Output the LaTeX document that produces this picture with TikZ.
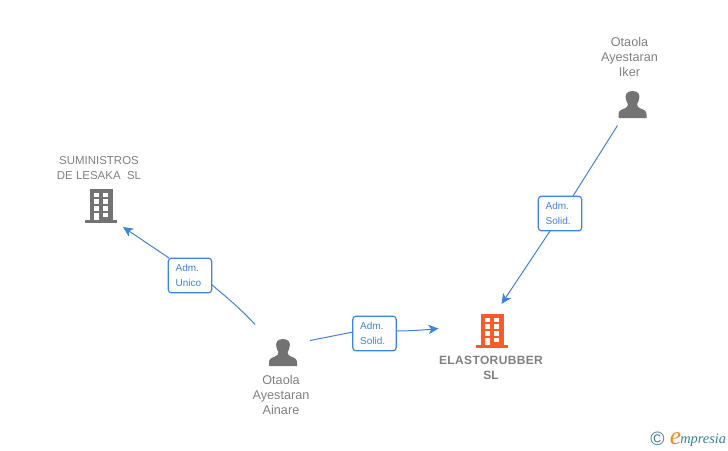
\documentclass[tikz,border=0pt]{standalone}
\usepackage{fontspec}
\setmainfont{Liberation Sans}
\newfontfamily\logofont{Liberation Serif}
\usetikzlibrary{arrows.meta}
\definecolor{txtgray}{HTML}{808080}
\definecolor{icongray}{HTML}{737373}
\definecolor{linkblue}{HTML}{3F83E2}
\definecolor{brandorange}{HTML}{FF5A26}
\definecolor{logoteal}{HTML}{3C7F97}
\definecolor{logoorange}{HTML}{F28A1E}
\tikzset{
  x=0.75pt,y=-0.75pt,
  lbl/.style={text=txtgray,align=center,inner sep=0pt,font=\fontsize{9.5}{11.25}\selectfont},
  rolebox/.style={draw=linkblue,line width=0.9pt,fill=white,rounded corners=2.4pt,
    text width=21.5pt,inner xsep=5.5pt,inner ysep=0pt,minimum height=26pt,text=linkblue,align=left,
    font=\fontsize{7.5}{11.25}\selectfont},
  link/.style={draw=linkblue,line width=0.75pt},
  arrowlink/.style={link,-{Stealth[length=7.5pt,width=7pt,inset=2pt]}},
  pics/building/.style={code={
    \fill[#1] (-11,-16.7) rectangle (12,15);
    \fill[#1] (-16,14) rectangle (16,17);
    \foreach \yy in {-13.3,-6.7,0}{
      \fill[white] (-7,\yy) rectangle (-2.3,\yy+4.5);
      \fill[white] (2.3,\yy) rectangle (7,\yy+4.5);
    }
    \fill[white] (2.3,6.7) rectangle (7,11.2);
    \fill[white] (-7,6.7) rectangle (-2.3,14);
  }},
  pics/person/.style={code={
    \fill[icongray] (0,-13.5) .. controls (-6.5,-13.5) and (-7.5,-9) .. (-6.6,-5.5)
      .. controls (-6.2,-3) and (-5.2,-1.5) .. (-4.6,-0.5)
      .. controls (-4.6,2) and (-5.5,3) .. (-8,4)
      .. controls (-12,5.5) and (-14,6.5) .. (-14,10)
      -- (-14,13.5) -- (14,13.5) -- (14,10)
      .. controls (14,6.5) and (12,5.5) .. (8,4)
      .. controls (5.5,3) and (4.6,2) .. (4.6,-0.5)
      .. controls (5.2,-1.5) and (6.2,-3) .. (6.6,-5.5)
      .. controls (7.5,-9) and (6.5,-13.5) .. (0,-13.5) -- cycle;
  }},
}
\begin{document}
\begin{tikzpicture}
\useasboundingbox (0,0) rectangle (728,450);
% icons
\pic at (101,206) {building=icongray};
\pic at (492,331) {building=brandorange};
\pic at (283,352.5) {person};
\pic at (632.5,104.5) {person};
% texts
\node[lbl,font=\fontsize{8.6}{11.25}\selectfont] (sumin) at (99,168) {SUMINISTROS\\DE LESAKA\ \ SL};
\node[lbl,font=\fontsize{9}{11.25}\bfseries\selectfont] (elasto) at (491,367.5) {\addfontfeature{LetterSpace=3}ELASTORUBBER\\SL};
\node[lbl] (ainare) at (281,394.5) {Otaola\\Ayestaran\\Ainare};
\node[lbl] (iker) at (629.5,57) {Otaola\\Ayestaran\\Iker};
% role boxes
\node[rolebox] (rolea) at (190,275.5) {Adm.\\Unico};
\node[rolebox] (roleb) at (374.5,333.5) {Adm.\\Solid.};
\node[rolebox] (rolec) at (560,213.5) {Adm.\\Solid.};
% connector end points
\coordinate (fromainareA) at (255,324.5);
\coordinate (toSumin) at (123,227);
\coordinate (fromainareB) at (310,340.5);
\coordinate (toElastoA) at (438.5,328.5);
\coordinate (fromiker) at (617.5,125.5);
\coordinate (toElastoB) at (501.5,304);
\coordinate (boxaR) at (211.5,284.5);
\coordinate (boxaT) at (169,258);
\coordinate (boxbL) at (353,332);
\coordinate (boxbR) at (396,331);
\coordinate (boxcT) at (573,196);
\coordinate (boxcB) at (550,231);
% connectors
\draw[link] (fromainareA) .. controls (240,308) and (225,296) .. (boxaR);
\draw[arrowlink] (boxaT) -- (toSumin);
\draw[link] (fromainareB) -- (boxbL);
\draw[arrowlink] (boxbR) .. controls (410,331) and (423,330) .. (toElastoA);
\draw[link] (fromiker) -- (boxcT);
\draw[arrowlink] (boxcB) -- (toElastoB);
% logo
\node[text=logoteal,inner sep=0pt,font=\fontsize{14.5}{14.5}\selectfont] (copyr) at (657.5,439) {©};
\node[text=logoorange,inner sep=0pt,anchor=base,font=\fontsize{19}{19}\logofont\itshape\selectfont] (logoe) at (675.5,444) {e};
\node[text=logoteal,inner sep=0pt,anchor=base west,font=\fontsize{10.8}{10.8}\logofont\itshape\selectfont] (logot) at (680,443) {mpresia};
\end{tikzpicture}
\end{document}
